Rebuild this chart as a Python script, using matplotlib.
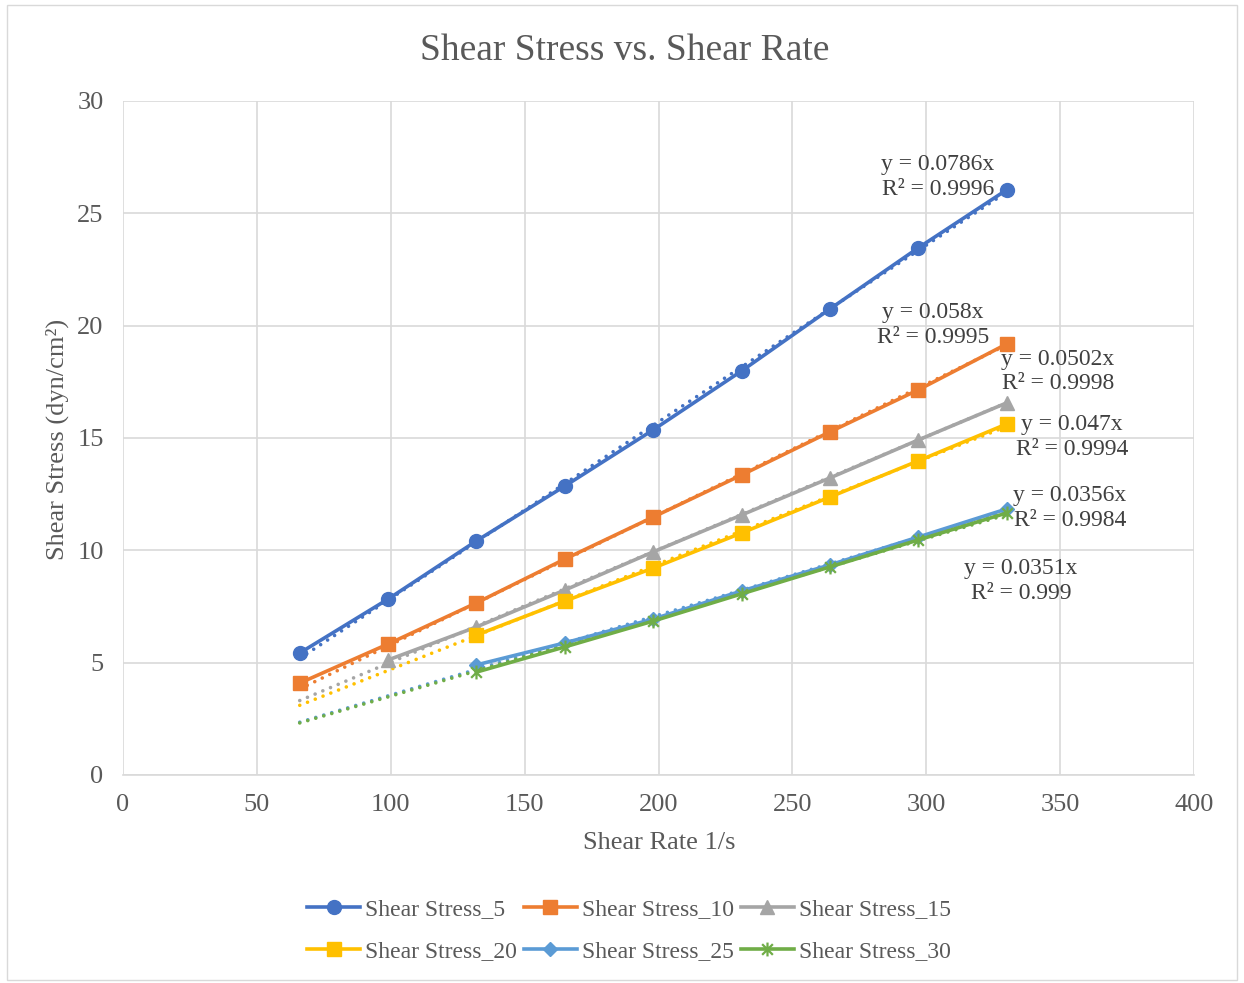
import matplotlib
matplotlib.use("Agg")
import matplotlib.pyplot as plt
from matplotlib.patches import Rectangle
from matplotlib.path import Path
import numpy as np

plt.rcParams['font.family'] = ['Liberation Serif', 'DejaVu Serif']

shear_rate = [66, 99, 132, 165, 198, 231, 264, 297, 330]

names = ["Shear Stress_5", "Shear Stress_10", "Shear Stress_15",
         "Shear Stress_20", "Shear Stress_25", "Shear Stress_30"]

ss5 = [5.43, 7.83, 10.42, 12.86, 15.36, 17.98, 20.74, 23.46, 26.04]
ss10 = [4.09, 5.83, 7.66, 9.61, 11.48, 13.35, 15.27, 17.14, 19.18]
ss15 = [None, 5.12, 6.59, 8.23, 9.93, 11.57, 13.22, 14.91, 16.56]
ss20 = [None, None, 6.23, 7.74, 9.21, 10.77, 12.37, 13.98, 15.62]
ss25 = [None, None, 4.90, 5.88, 6.94, 8.19, 9.35, 10.59, 11.84]
ss30 = [None, None, 4.58, 5.70, 6.85, 8.06, 9.26, 10.46, 11.66]

slopes = [0.0786, 0.058, 0.0502, 0.047, 0.0356, 0.0351]
r2 = ["0.9996", "0.9995", "0.9998", "0.9994", "0.9984", "0.999"]

colors = ["#4472C4", "#ED7D31", "#A5A5A5", "#FFC000", "#5B9BD5", "#70AD47"]

# Excel-style star marker: x plus vertical bar
star = Path([(-1, -1), (1, 1), (-1, 1), (1, -1), (0, -1.3), (0, 1.3)],
            [Path.MOVETO, Path.LINETO, Path.MOVETO, Path.LINETO, Path.MOVETO, Path.LINETO])
markers = ["o", "s", "^", "s", "D", star]
msizes = [10, 9.5, 10, 9.5, 7, 10]

# label centre positions (data coords) for trendline equations
label_pos = [(304.4, 26.62), (302.5, 20.03), (349.2, 17.96), (354.4, 15.04),
             (353.7, 11.88), (335.4, 8.63)]

series = [ss5, ss10, ss15, ss20, ss25, ss30]

fig = plt.figure(figsize=(12.44, 9.83), dpi=100)
fig.patches.append(Rectangle((0.006, 0.003), 0.988, 0.992, transform=fig.transFigure,
                             fill=False, edgecolor="#D9D9D9", linewidth=1))
ax = fig.add_axes([0.0989, 0.2116, 0.8609, 0.6857])

# trendlines first
for s, c in zip(slopes, colors):
    xt = np.array([shear_rate[0], shear_rate[-1]], dtype=float)
    ax.plot(xt, s * xt, linestyle=(0, (0.01, 2.3)), color=c, linewidth=2.6,
            dash_capstyle="round", zorder=2)

handles = []
for ys, c, m, ms, nm in zip(series, colors, markers, msizes, names):
    xv = [x for x, y in zip(shear_rate, ys) if y is not None]
    yv = [y for y in ys if y is not None]
    mew = 1.6 if isinstance(m, Path) else 1
    ln, = ax.plot(xv, yv, color=c, linewidth=2.6, marker=m, markersize=ms,
                  markeredgewidth=mew, markeredgecolor=c, zorder=3, label=nm)
    handles.append(ln)

for (lx, ly), s, r in zip(label_pos, slopes, r2):
    ax.text(lx, ly, f"y = {s}x\nR² = {r}", fontsize=17, color="#404040",
            ha="center", va="center", linespacing=1.22, zorder=4)

ax.set_xlim(0, 400)
ax.set_ylim(0, 30)
ax.set_xticks(np.arange(0, 401, 50))
ax.set_yticks(np.arange(0, 31, 5))
ax.grid(True, color="#D9D9D9", linewidth=1.2)
ax.set_axisbelow(True)
for sp in ["top", "right", "left"]:
    ax.spines[sp].set_visible(False)
ax.spines["bottom"].set_color("#D9D9D9")
ax.spines["bottom"].set_linewidth(1.2)
ax.tick_params(length=0, labelsize=19, labelcolor="#595959")
ax.tick_params(axis="y", pad=14)
ax.tick_params(axis="x", pad=14)

fig.text(0.502, 0.948, "Shear Stress vs. Shear Rate", fontsize=27, color="#595959",
         ha="center", va="center")
fig.text(0.530, 0.142, "Shear Rate 1/s", fontsize=19, color="#595959",
         ha="center", va="center")
fig.text(0.0458, 0.5534, "Shear Stress (dyn/cm²)", fontsize=19, color="#595959",
         ha="center", va="center", rotation=90)

order = [0, 3, 1, 4, 2, 5]
leg = fig.legend(handles=[handles[i] for i in order], loc="center",
                 bbox_to_anchor=(0.5055, 0.0535), ncol=3,
                 frameon=False, fontsize=17, labelcolor="#595959", handlelength=2.25,
                 columnspacing=0.3, handletextpad=0.2, labelspacing=0.85)

fig.savefig("out.png", dpi=100)
